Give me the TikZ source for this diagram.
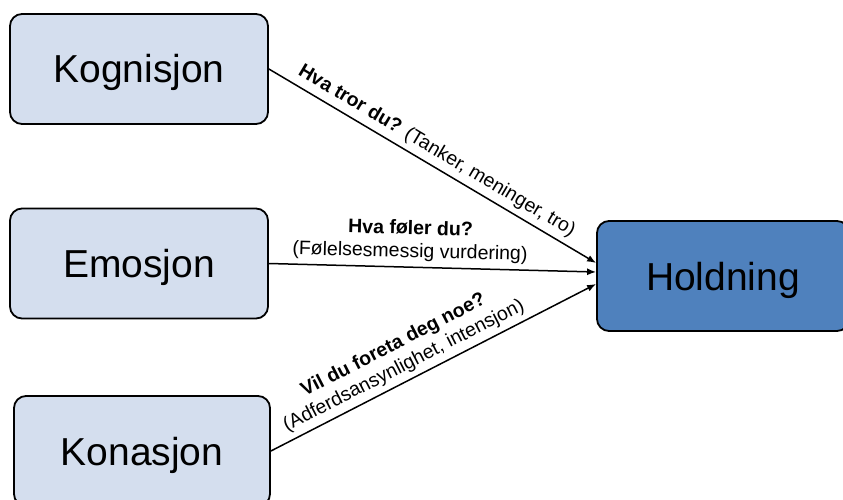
\documentclass[tikz,border=0pt]{standalone}
\usepackage{fontspec}
\setmainfont{Liberation Sans}
\usetikzlibrary{arrows.meta,calc}
\definecolor{lightbox}{RGB}{212,222,238}
\definecolor{mainbox}{RGB}{79,129,189}
\begin{document}
\begin{tikzpicture}[x=1pt,y=-1pt,
  concept/.style={draw=black,line width=1.8pt,rounded corners=12pt,fill=lightbox,
    minimum width=258pt,minimum height=110pt,text height=28pt,text depth=0pt,
    font=\fontsize{39}{44}\selectfont},
  target/.style={concept,fill=mainbox},
  link/.style={line width=1.5pt,-{Latex[length=9pt,width=7pt]}},
  lbl/.style={sloped,anchor=south,inner xsep=0pt,inner ysep=5pt,align=center,
    font=\fontsize{19.5}{23}\selectfont}]
\useasboundingbox (0,0) rectangle (843,500);

\node[concept] (kog) at (139,69) {Kognisjon};
\node[concept] (emo) at (139,263.5) {Emosjon};
\node[concept,minimum width=256pt] (kon) at (142,451) {Konasjon};
\node[target,minimum width=252pt] (hold) at (723,276) {Holdning};

\draw[link] (kog.east) -- ($(hold.west)+(0,-13)$)
  node[lbl,pos=0.49] {\textbf{Hva tror du?} (Tanker, meninger, tro)};
\draw[link] (emo.east) -- ($(hold.west)+(0,-4)$)
  node[lbl,pos=0.43] {\textbf{Hva føler du?}\\(Følelsesmessig vurdering)};
\draw[link] (kon.east) -- ($(hold.west)+(0,8)$)
  node[lbl,pos=0.43] {\textbf{Vil du foreta deg noe?}\\(Adferdsansynlighet, intensjon)};
\end{tikzpicture}
\end{document}
